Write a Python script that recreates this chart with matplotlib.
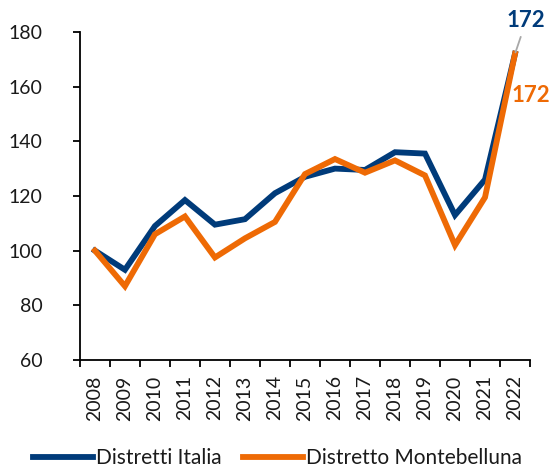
import matplotlib
matplotlib.use("Agg")
import matplotlib.pyplot as plt
import numpy as np

years = [str(y) for y in range(2008, 2023)]
italia = [100, 93, 109, 118.5, 109.5, 111.5, 121, 127, 130, 129.5, 136, 135.5, 113, 126, 172]
montebelluna = [100, 87, 106, 112.5, 97.5, 104.5, 110.5, 128, 133.5, 128.5, 133, 127.5, 102, 119.5, 172]
series_names = ["Distretti Italia", "Distretto Montebelluna"]
blue = "#003b7a"
orange = "#ee6a05"

plt.rcParams['font.family'] = ['Lato', 'DejaVu Sans']

fig = plt.figure(figsize=(5.55, 4.69), dpi=100)
ax = fig.add_axes([0.144, 0.2324, 0.811, 0.6996])
x = np.arange(len(years))
l1, = ax.plot(x, italia, color=blue, lw=4.2, solid_joinstyle='miter', label=series_names[0])
l2, = ax.plot(x, montebelluna, color=orange, lw=4.2, solid_joinstyle='miter', label=series_names[1])

ax.set_xlim(-0.5, len(years) - 0.5)
ax.set_ylim(60, 180)
ax.set_yticks(range(60, 181, 20))
ax.set_xticks(x)
ax.set_xticklabels(years, rotation=90)
ax.set_xticks(np.arange(-0.5, len(years), 1), minor=True)
ax.tick_params(axis='x', which='major', length=0, pad=11, labelsize=14, labelcolor='#1a1a1a')
ax.tick_params(axis='x', which='minor', length=5, width=1.3, direction='out')
ax.tick_params(axis='y', length=5, width=1.3, direction='out', labelsize=14, pad=22,
               labelcolor='#1a1a1a')
for s in ['top', 'right']:
    ax.spines[s].set_visible(False)
for s in ['left', 'bottom']:
    ax.spines[s].set_color('black')
    ax.spines[s].set_linewidth(1.3)

# annotations
ax.annotate(str(italia[-1]), xy=(x[-1], italia[-1]), xytext=(x[-1] + 0.37, 184),
            textcoords='data', color=blue, fontsize=16, fontweight='bold',
            ha='center', va='center', annotation_clip=False,
            arrowprops=dict(arrowstyle='-', color='#a8a8a8', lw=1.3, shrinkA=2, shrinkB=1))
ax.text(x[-1] + 0.53, 156.8, str(montebelluna[-1]), color=orange, fontsize=16,
        fontweight='bold', ha='center', va='center')

fig.legend(handles=[l1, l2], loc='center', bbox_to_anchor=(0.5, 1 - 458 / 469), ncol=2,
           frameon=False, fontsize=15, handlelength=2.9, handletextpad=0.15,
           columnspacing=1.0, borderpad=0, borderaxespad=0, labelcolor='#1a1a1a')

fig.savefig("out.png", dpi=100)
